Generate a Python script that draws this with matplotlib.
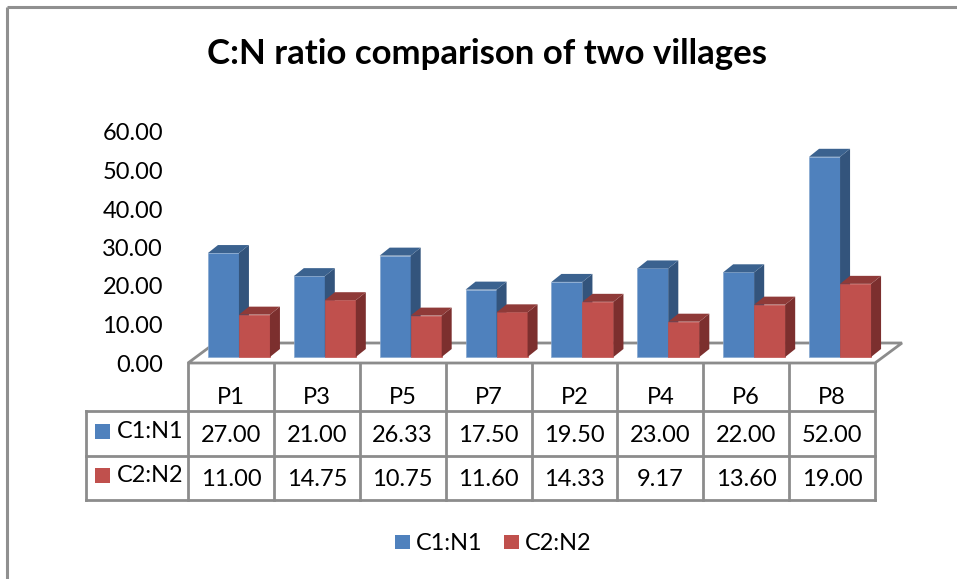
import numpy as np
import matplotlib
matplotlib.use("Agg")
import matplotlib.pyplot as plt
from matplotlib.patches import Polygon, Rectangle

categories = ["P1", "P3", "P5", "P7", "P2", "P4", "P6", "P8"]
c1_n1 = [27.00, 21.00, 26.33, 17.50, 19.50, 23.00, 22.00, 52.00]
c2_n2 = [11.00, 14.75, 10.75, 11.60, 14.33, 9.17, 13.60, 19.00]
y_ticks = [0, 10, 20, 30, 40, 50, 60]

W, H = 957, 579
GRAY = "#8c8c8c"
BLUE, BLUE_SIDE, BLUE_TOP = "#4f81bd", "#33547c", "#3b628f"
RED, RED_SIDE, RED_TOP = "#c0504d", "#7c2f2e", "#8f3a38"

plt.rcParams["font.family"] = ["Lato", "DejaVu Sans"]

fig = plt.figure(figsize=(W / 100, H / 100), dpi=100)

# overlay in pixel coords, for the frame and the table grid
px = fig.add_axes([0, 0, 1, 1])
px.set_xlim(0, W)
px.set_ylim(H, 0)
px.axis("off")

# plot area: x 188..875 is the 8 categories, y=0 at 363
left, right, y0, y60 = 188, 875, 363, 132
ax = fig.add_axes([left / W, 1 - y0 / H, (right - left) / W, (y0 - y60) / H])
ax.set_xlim(0, 8)
ax.set_ylim(0, 60)
ax.patch.set_alpha(0)
ax.axis("off")

sx = (right - left) / 8        # px per category
sy = (y0 - y60) / 60           # px per unit
off_x, off_y = 8 / sx, 6 / sy     # floor offset of the bars
dep_x, dep_y = 10 / sx, 8 / sy    # depth of one bar
bar_w = 31 / sx
flr_x, flr_y = 27 / sx, 20 / sy

ax.add_patch(Polygon([(0, 0), (8, 0), (8 + flr_x, flr_y), (flr_x, flr_y)], closed=True,
                     fc="white", ec=GRAY, lw=2, clip_on=False, zorder=1))


def draw_bars(vals, shift, col, side, top):
    xs = np.arange(8) + 0.5 + off_x + shift * bar_w
    ax.bar(xs, vals, width=bar_w, bottom=off_y, color=col, edgecolor="#86a7d0" if col == BLUE else col,
           linewidth=0.5, zorder=3)
    for x, v in zip(xs, vals):
        l, r = x - bar_w / 2, x + bar_w / 2
        t = v + off_y
        ax.add_patch(Polygon([(r, off_y), (r + dep_x, off_y + dep_y), (r + dep_x, t + dep_y), (r, t)],
                             closed=True, fc=side, ec="none", clip_on=False, zorder=3))
        ax.add_patch(Polygon([(l, t), (r, t), (r + dep_x, t + dep_y), (l + dep_x, t + dep_y)],
                             closed=True, fc=top, ec="none", clip_on=False, zorder=3))


draw_bars(c1_n1, -0.5, BLUE, BLUE_SIDE, BLUE_TOP)
draw_bars(c2_n2, 0.5, RED, RED_SIDE, RED_TOP)

for t in y_ticks:
    px.text(163, y0 + 2 - t * sy, f"{t:.2f}", ha="right", va="center", fontsize=17, color="black")

# frame
px.plot([7, 7], [H, 7], color="#909090", lw=2.2, solid_capstyle="butt")
px.plot([7, W], [7, 7], color="#909090", lw=2.2, solid_capstyle="butt")

px.text(487, 54, "C:N ratio comparison of two villages", ha="center", va="center",
        fontsize=25, fontweight="bold", color="black")

# data table
row_y = [363, 411, 455.5, 500]
col_x = [left + i * sx for i in range(9)]
for i, x in enumerate(col_x):
    px.plot([x, x], [row_y[0], row_y[-1]], color=GRAY, lw=2, solid_capstyle="projecting")
px.plot([86, 86], [row_y[1], row_y[-1]], color=GRAY, lw=2)
for y in row_y[1:]:
    px.plot([86, right], [y, y], color=GRAY, lw=2, solid_capstyle="projecting")

for i, c in enumerate(categories):
    cx = left + (i + 0.5) * sx
    px.text(cx, 398, c, ha="center", va="center", fontsize=17)
    px.text(cx, 435, f"{c1_n1[i]:.2f}", ha="center", va="center", fontsize=17)
    px.text(cx, 479, f"{c2_n2[i]:.2f}", ha="center", va="center", fontsize=17)

series = [("C1:N1", BLUE, 431), ("C2:N2", RED, 475)]
for name, col, y in series:
    px.add_patch(Rectangle((95, y - 7.5), 15, 15, fc=col, ec="none"))
    px.text(117, y + 1, name, ha="left", va="center", fontsize=16.8)

# legend
for (name, col, y), x in zip(series, [395, 504]):
    px.add_patch(Rectangle((x, 535), 15, 14, fc=col, ec="none"))
    px.text(x + 21, 543, name, ha="left", va="center", fontsize=16.8)

fig.savefig("out.png", dpi=100)
